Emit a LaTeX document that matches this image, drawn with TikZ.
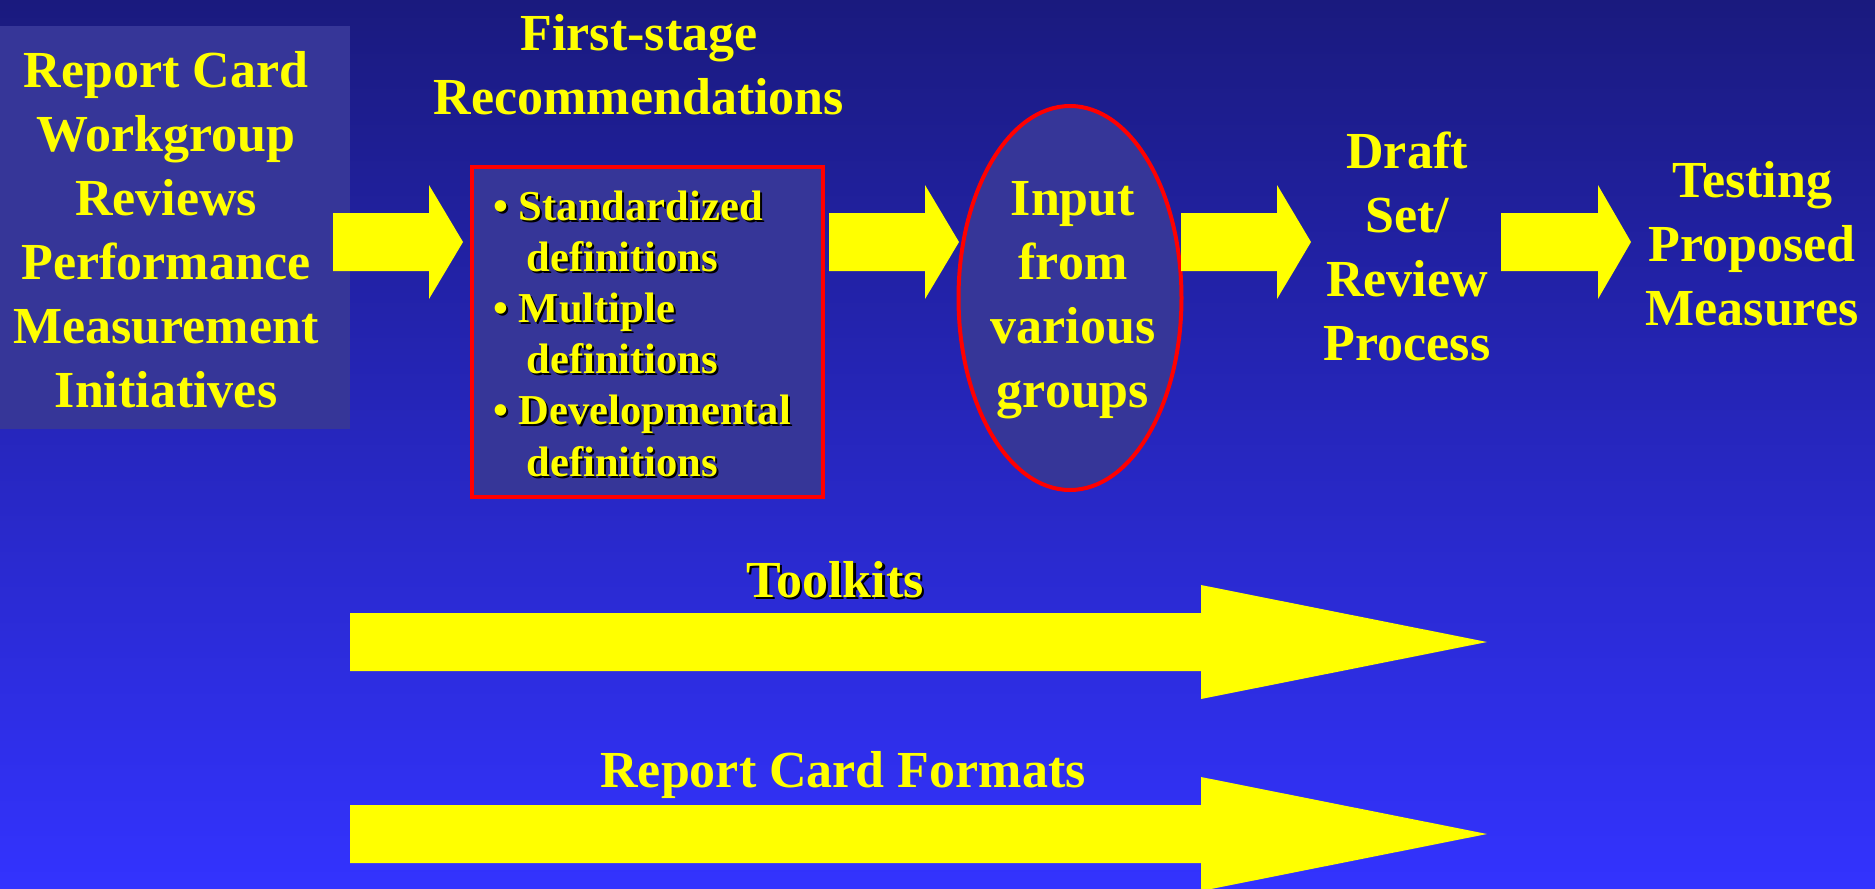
\documentclass[tikz,border=0pt]{standalone}
\usepackage{fontspec}
\setmainfont{Liberation Serif}
\usetikzlibrary{shapes.geometric}

\definecolor{bgtop}{RGB}{26,26,126}
\definecolor{bgmid}{RGB}{42,42,212}
\definecolor{bgbot}{RGB}{51,51,255}
\definecolor{panel}{RGB}{54,54,152}
\definecolor{hl}{RGB}{255,255,0}
\definecolor{rim}{RGB}{255,0,0}

% block arrow: start x, head base x, tip x, centre y
\newcommand{\blockarrow}[4]{%
  \fill[hl] (#1,#4-29) -- (#2,#4-29) -- (#2,#4-57) -- (#3,#4)
    -- (#2,#4+57) -- (#2,#4+29) -- (#1,#4+29) -- cycle;}

\begin{document}
\begin{tikzpicture}[x=0.5pt,y=-0.5pt,
  big/.style={text=hl,font=\bfseries\fontsize{26}{32}\selectfont,align=center,inner sep=0pt},
  small/.style={text=hl,font=\bfseries\fontsize{21.3}{25.6}\selectfont,align=left,inner sep=0pt},
  shadowtext/.style={text=black}]

% background
\shade[top color=bgtop, middle color=bgmid, bottom color=bgbot] (0,0) rectangle (1875,889);
\useasboundingbox (0,0) rectangle (1875,889);

% left panel
\node (wgbox) [fill=panel, inner sep=0pt, minimum width=175pt, minimum height=201.5pt,
  anchor=north west] at (0,26) {};
\node (wgtext) [big] at (166,230)
  {Report Card\\Workgroup\\Reviews\\Performance\\Measurement\\Initiatives};

% first-stage recommendations
\node (fstitle) [big] at (639,64.5) {First-stage\\Recommendations};
\node (recbox) [draw=rim, line width=2pt, fill=panel, inner sep=0pt,
  minimum width=175.5pt, minimum height=165pt] at (647.5,332) {};
\newcommand{\reclist}{%
  • Standardized\\\hspace*{16.5pt}definitions\\
  • Multiple\\\hspace*{16.5pt}definitions\\
  • Developmental\\\hspace*{16.5pt}definitions}
\node (recshadow) [small, shadowtext, anchor=west] at (495,335.5) {\reclist};
\node (rectext) [small, anchor=west] at (493,333.5) {\reclist};

% input ellipse
\node (inputs) [ellipse, draw=rim, line width=2pt, fill=panel, inner sep=0pt,
  minimum width=111.5pt, minimum height=192pt] at (1070,298) {};
\node (inputtext) [big] at (1073,300.5) {Input\\from\\various\\groups};

% later stages
\node (draft) [big] at (1407,246.5) {Draft\\Set/\\Review\\Process};
\node (testing) [big] at (1752,243.5) {Testing\\Proposed\\Measures};

% arrows between stages
\blockarrow{333}{429}{463}{242}
\blockarrow{829}{925}{959}{242}
\blockarrow{1181}{1277}{1311}{242}
\blockarrow{1501}{1598}{1631}{242}

% long arrows
\node (tkshadow) [big, shadowtext, anchor=base] at (837.5,599.5) {Toolkits};
\node (toolkits) [big, anchor=base] at (835,597) {Toolkits};
\blockarrow{350}{1201}{1487}{642}

\node (formats) [big, anchor=base] at (843,787) {Report Card Formats};
\blockarrow{350}{1201}{1487}{834}

\end{tikzpicture}
\end{document}
